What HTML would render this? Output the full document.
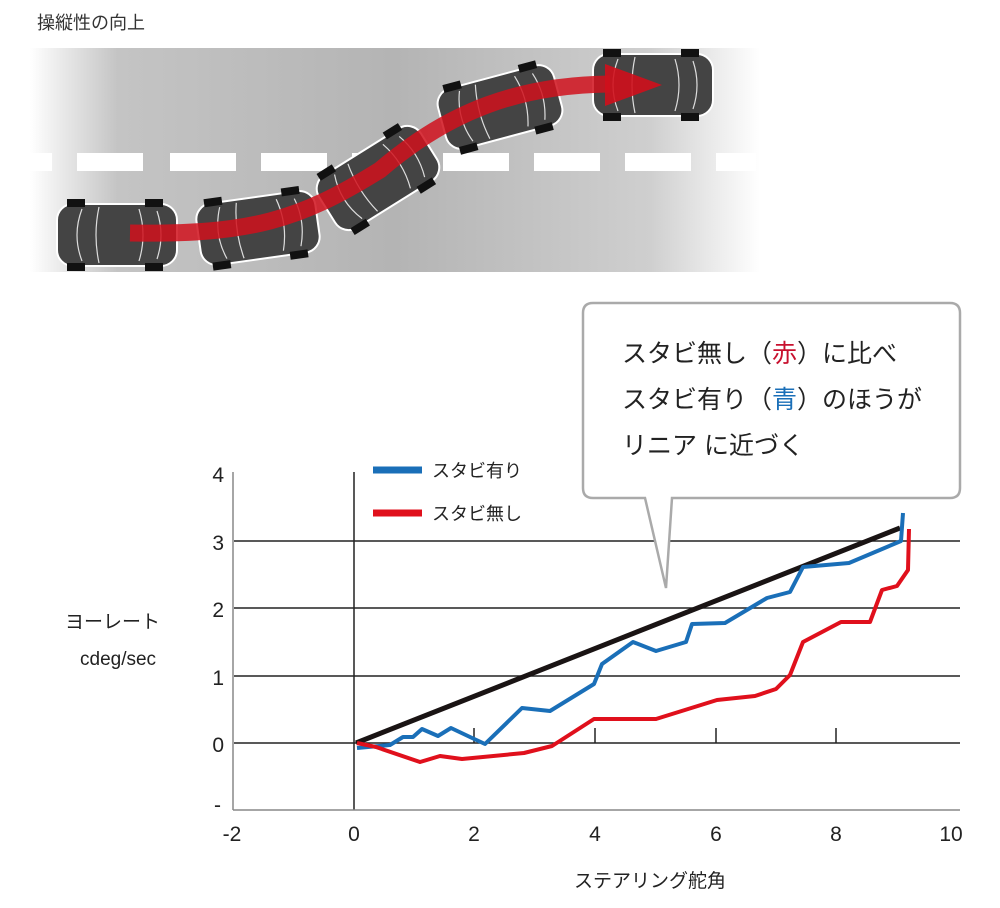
<!DOCTYPE html>
<html><head><meta charset="utf-8"><style>
body{margin:0;background:#fff;width:1000px;height:908px;overflow:hidden;font-family:"Liberation Sans","Noto Sans CJK JP",sans-serif}
</style></head><body>
<svg width="1000" height="908" xmlns="http://www.w3.org/2000/svg" style="position:absolute;left:0;top:0" font-family="Liberation Sans, Noto Sans CJK JP, sans-serif">
<defs>
<linearGradient id="road" x1="0" x2="1" y1="0" y2="0">
<stop offset="0" stop-color="#fff"/><stop offset="0.12" stop-color="#c4c4c4"/><stop offset="0.5" stop-color="#b4b4b4"/><stop offset="0.85" stop-color="#cfcfcf"/><stop offset="1" stop-color="#fff"/>
</linearGradient>
<g id="car">
<rect x="-60" y="-31" width="120" height="62" rx="16" fill="#444" stroke="#fff" stroke-width="2"/>
<rect x="-50" y="-36" width="18" height="8" fill="#111"/><rect x="28" y="-36" width="18" height="8" fill="#111"/>
<rect x="-50" y="28" width="18" height="8" fill="#111"/><rect x="28" y="28" width="18" height="8" fill="#111"/>
<path d="M-35 -26 Q-45 0 -35 26 M-18 -28 Q-24 0 -18 28 M22 -26 Q30 0 22 26 M40 -24 Q48 0 40 24" stroke="#ddd" stroke-width="1.2" fill="none"/>
</g>
</defs>
<text x="37" y="29" font-size="18" fill="#333">操縦性の向上</text>
<rect x="30" y="48" width="730" height="224" fill="url(#road)"/>
<g fill="#fff">
<rect x="30" y="153" width="22" height="18"/><rect x="77" y="153" width="66" height="18"/><rect x="170" y="153" width="66" height="18"/><rect x="261" y="153" width="66" height="18"/><rect x="352" y="153" width="66" height="18"/><rect x="443" y="153" width="66" height="18"/><rect x="534" y="153" width="66" height="18"/><rect x="625" y="153" width="66" height="18"/><rect x="716" y="153" width="40" height="18"/>
</g>
<use href="#car" transform="translate(117,235)"/>
<use href="#car" transform="translate(258,228) rotate(-8)"/>
<use href="#car" transform="translate(378,178) rotate(-32)"/>
<use href="#car" transform="translate(500,107) rotate(-15)"/>
<use href="#car" transform="translate(653,85)"/>
<path d="M130 233 C250 235 300 220 380 170 C450 110 520 85 610 84" stroke="#d0101c" stroke-width="17" fill="none" opacity="0.85"/>
<polygon points="605,64 662,85 605,106" fill="#d0101c" opacity="0.9"/>

<g stroke="#222" stroke-width="1.5">
<line x1="234" y1="541" x2="960" y2="541"/><line x1="234" y1="608" x2="960" y2="608"/><line x1="234" y1="676" x2="960" y2="676"/><line x1="234" y1="743" x2="960" y2="743"/>
<line x1="354" y1="472" x2="354" y2="810"/>
<line x1="474" y1="728" x2="474" y2="743"/><line x1="595" y1="728" x2="595" y2="743"/><line x1="716" y1="728" x2="716" y2="743"/><line x1="836" y1="728" x2="836" y2="743"/>
</g>
<g stroke="#888" stroke-width="1.5">
<line x1="233" y1="472" x2="233" y2="810"/><line x1="233" y1="810" x2="960" y2="810"/>
</g>
<g font-size="21" fill="#222" text-anchor="end">
<text x="224" y="482">4</text><text x="224" y="550">3</text><text x="224" y="617">2</text><text x="224" y="685">1</text><text x="224" y="752">0</text><text x="221" y="812">-</text>
</g>
<g font-size="21" fill="#222" text-anchor="middle">
<text x="232" y="841">-2</text><text x="354" y="841">0</text><text x="474" y="841">2</text><text x="595" y="841">4</text><text x="716" y="841">6</text><text x="836" y="841">8</text><text x="951" y="841">10</text>
<text x="650" y="887" font-size="19">ステアリング舵角</text>
</g>
<text x="65" y="628" font-size="19" fill="#222">ヨーレート</text>
<text x="80" y="665" font-size="19" fill="#222">cdeg/sec</text>

<path d="M593 303 H950 Q960 303 960 313 V488 Q960 498 950 498 H672 L666 588 L645 498 H593 Q583 498 583 488 V313 Q583 303 593 303 Z" fill="#fff" stroke="#aaa" stroke-width="2.5"/>
<g font-size="25" fill="#222">
<text x="622" y="362">スタビ無し（<tspan fill="#c8102e">赤</tspan>）に比べ</text>
<text x="622" y="408">スタビ有り（<tspan fill="#1a6fb8">青</tspan>）のほうが</text>
<text x="622" y="454">リニア に近づく</text>
</g>

<line x1="373" y1="470" x2="422" y2="470" stroke="#1a6fb8" stroke-width="7"/>
<text x="432" y="477" font-size="18" fill="#222">スタビ有り</text>
<line x1="373" y1="513" x2="422" y2="513" stroke="#e0101c" stroke-width="7"/>
<text x="432" y="520" font-size="18" fill="#222">スタビ無し</text>

<line x1="356" y1="743" x2="900" y2="528" stroke="#1a1414" stroke-width="5"/>
<polyline fill="none" stroke="#1a6fb8" stroke-width="4" stroke-linejoin="round" points="357,748 390,745 403,737 413,737 422,729 438,736 451,728 470,737 485,744 522,708 550,711 594,684 602,664 633,642 656,651 686,642 692,624 725,623 767,598 790,592 803,567 849,563 901,541 903,513"/>
<polyline fill="none" stroke="#e0101c" stroke-width="4" stroke-linejoin="round" points="357,743 376,747 420,762 440,756 462,759 524,753 552,746 594,719 656,719 717,700 755,696 776,689 790,675 803,642 841,622 870,622 882,590 897,586 908,570 909,529"/>
</svg>
</body></html>
